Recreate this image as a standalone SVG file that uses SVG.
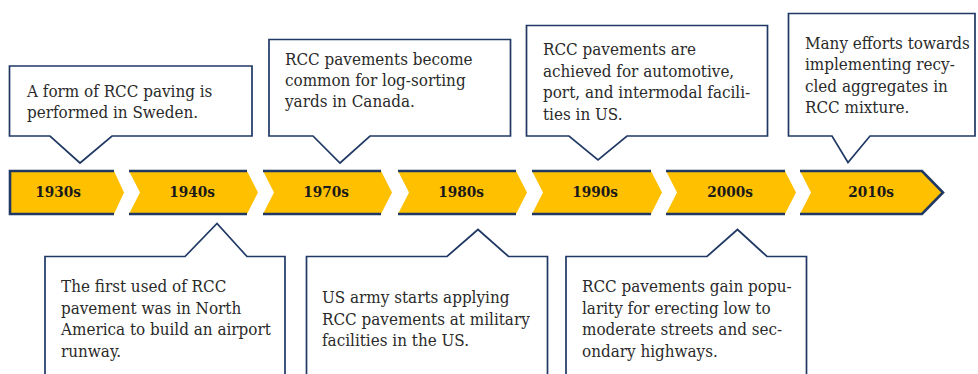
<svg xmlns="http://www.w3.org/2000/svg" width="978" height="374" viewBox="0 0 978 374">
  <style>
    .chev { fill: #FFC000; stroke: none; }
    .edge { fill: none; stroke: #1F3864; stroke-width: 2.6; stroke-linejoin: miter; }
    .callout { fill: #FFFFFF; stroke: #1F3864; stroke-width: 1.7; stroke-linejoin: miter; }
    text { font-family: "DejaVu Serif Condensed", "DejaVu Serif", "Liberation Serif", serif; font-stretch: condensed; }
    .year { font-size: 15.2px; font-weight: bold; fill: #1A1A1A; text-anchor: middle; }
    .note { font-size: 16.9px; fill: #2A2A2A; }
  </style>
  <rect width="978" height="374" fill="#FFFFFF"/>

  <!-- timeline band: chevron segments -->
  <g id="timeline">
    <g id="seg-1930s">
      <polygon class="chev" points="10,171 114,171 124,192.5 114,214 10,214"/>
      <polyline class="edge" points="114,171 10,171 10,214 114,214"/>
      <text class="year" x="58" y="197">1930s</text>
    </g>
    <g id="seg-1940s">
      <polygon class="chev" points="129,171 247,171 258,192.5 247,214 129,214 140,192.5"/>
      <polyline class="edge" points="129,171 247,171"/>
      <polyline class="edge" points="129,214 247,214"/>
      <text class="year" x="192" y="197">1940s</text>
    </g>
    <g id="seg-1970s">
      <polygon class="chev" points="263,171 381,171 392,192.5 381,214 263,214 274,192.5"/>
      <polyline class="edge" points="263,171 381,171"/>
      <polyline class="edge" points="263,214 381,214"/>
      <text class="year" x="326" y="197">1970s</text>
    </g>
    <g id="seg-1980s">
      <polygon class="chev" points="398,171 516,171 527,192.5 516,214 398,214 409,192.5"/>
      <polyline class="edge" points="398,171 516,171"/>
      <polyline class="edge" points="398,214 516,214"/>
      <text class="year" x="461" y="197">1980s</text>
    </g>
    <g id="seg-1990s">
      <polygon class="chev" points="532,171 651,171 662,192.5 651,214 532,214 543,192.5"/>
      <polyline class="edge" points="532,171 651,171"/>
      <polyline class="edge" points="532,214 651,214"/>
      <text class="year" x="595" y="197">1990s</text>
    </g>
    <g id="seg-2000s">
      <polygon class="chev" points="666,171 785,171 796,192.5 785,214 666,214 677,192.5"/>
      <polyline class="edge" points="666,171 785,171"/>
      <polyline class="edge" points="666,214 785,214"/>
      <text class="year" x="730" y="197">2000s</text>
    </g>
    <g id="seg-2010s">
      <polygon class="chev" points="800,171 922,171 943,192.5 922,214 800,214 811,192.5"/>
      <polyline class="edge" points="800,171 922,171 943,192.5 922,214 800,214"/>
      <text class="year" x="871" y="197">2010s</text>
    </g>
  </g>

  <!-- callouts above the band -->
  <g id="note-1930s">
    <path class="callout" d="M9.5,66 H252 V136 H112 L80,163 L50,136 H9.5 Z"/>
    <text class="note" x="27" y="97">A form of RCC paving is<tspan x="27" y="118">performed in Sweden.</tspan></text>
  </g>
  <g id="note-1970s">
    <path class="callout" d="M269,39.5 H510.5 V136 H370 L340,163 L313,136 H269 Z"/>
    <text class="note" x="285" y="65">RCC pavements become<tspan x="285" y="86">common for log-sorting</tspan><tspan x="285" y="107">yards in Canada.</tspan></text>
  </g>
  <g id="note-1990s">
    <path class="callout" d="M526.5,25.5 H767.5 V136 H627 L598,160 L569,136 H526.5 Z"/>
    <text class="note" x="543" y="55">RCC pavements are<tspan x="543" y="76.5">achieved for automotive,</tspan><tspan x="543" y="98">port, and intermodal facili-</tspan><tspan x="543" y="119.5">ties in US.</tspan></text>
  </g>
  <g id="note-2010s">
    <path class="callout" d="M788.5,13.5 H975 V136 H870 L848,162.5 L832,136 H788.5 Z"/>
    <text class="note" x="805" y="48.5">Many efforts towards<tspan x="805" y="70">implementing recy-</tspan><tspan x="805" y="91.5">cled aggregates in</tspan><tspan x="805" y="113">RCC mixture.</tspan></text>
  </g>

  <!-- callouts below the band -->
  <g id="note-1940s">
    <path class="callout" d="M45,380 V256.5 H185 L217,223.5 L247,256.5 H285 V380"/>
    <text class="note" x="61" y="292">The first used of RCC<tspan x="61" y="313.5">pavement was in North</tspan><tspan x="61" y="335">America to build an airport</tspan><tspan x="61" y="356.5">runway.</tspan></text>
  </g>
  <g id="note-1980s">
    <path class="callout" d="M306.5,380 V256.5 H447 L478,229.5 L508.5,256.5 H547.5 V380"/>
    <text class="note" x="322" y="303">US army starts applying<tspan x="322" y="324.5">RCC pavements at military</tspan><tspan x="322" y="346">facilities in the US.</tspan></text>
  </g>
  <g id="note-2000s">
    <path class="callout" d="M566,380 V256.5 H707 L737.5,229.5 L767,256.5 H806.5 V380"/>
    <text class="note" x="582" y="292">RCC pavements gain popu-<tspan x="582" y="313.5">larity for erecting low to</tspan><tspan x="582" y="335">moderate streets and sec-</tspan><tspan x="582" y="356.5">ondary highways.</tspan></text>
  </g>
</svg>
